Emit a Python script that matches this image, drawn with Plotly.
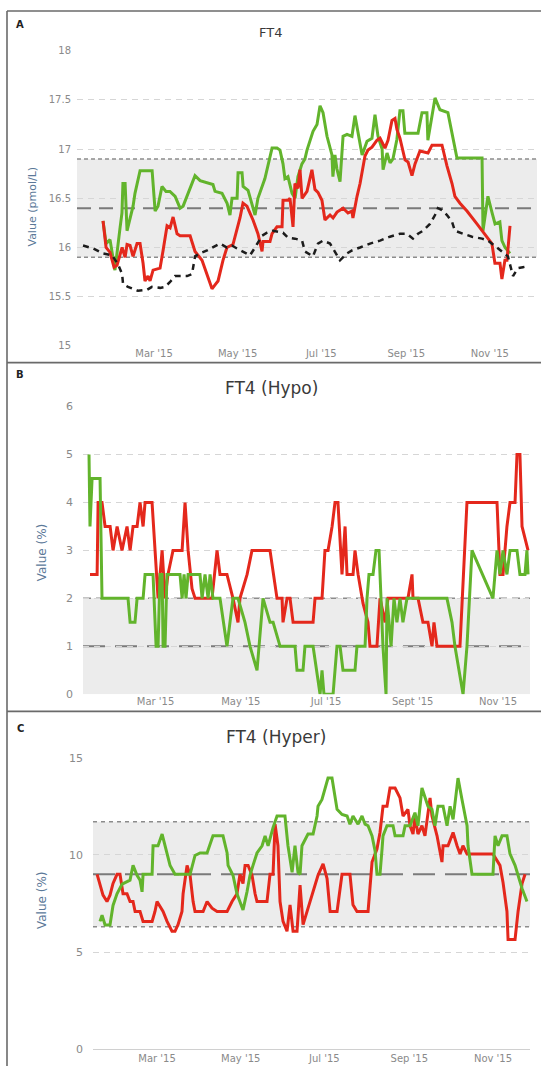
import numpy as np
import pandas as pd
import plotly.graph_objects as go

# ---------------- data (days counted from 2015-01-01) ----------------
BASE = pd.Timestamp("2015-01-01")

TICK_DATES = ["2015-03-01", "2015-05-01", "2015-07-01", "2015-09-01", "2015-11-01"]
TICK_TEXT_A = ["Mar '15", "May '15", "Jul '15", "Sep '15", "Nov '15"]
TICK_TEXT_B = ["Mar '15", "May '15", "Jul '15", "Sept '15", "Nov '15"]
TICK_TEXT_C = ["Mar '15", "May '15", "Jul '15", "Sep '15", "Nov '15"]

A_Y_TICKS = [15, 15.5, 16, 16.5, 17, 17.5, 18]
B_Y_TICKS = [0, 1, 2, 3, 4, 5, 6]
C_Y_TICKS = [0, 5, 10, 15]

# reference band: low, high, middle
A_BAND = [15.9, 16.9, 16.4]
B_BAND = [0, 2, 1]
C_BAND = [6.3, 11.7, 9.0]

# Panel A: FT4 (pmol/L)
a_green_day = [21.8, 24.0, 26.9, 30.5, 34.2, 35.6, 36.3, 37.9, 39.3, 43.7, 45.1, 48.8, 57.6, 59.8, 61.9, 64.8,
               67.7, 70.6, 74.4, 78.0, 80.2, 85.2, 88.9, 92.6, 98.4, 102.0, 103.5, 108.6, 112.3, 114.4, 115.9,
               119.6, 120.3, 123.2, 124.0, 127.6, 132.7, 134.8, 139.9, 145.1, 148.7, 150.9, 153.1, 154.5, 156.7,
               159.7, 161.9, 164.0, 166.9, 169.1, 170.6, 175.0, 177.9, 180.1, 182.3, 185.2, 188.8, 189.5, 191.0,
               192.4, 194.7, 196.9, 199.8, 203.4, 205.6, 207.8, 210.8, 214.4, 218.0, 220.2, 222.4, 225.4, 226.1,
               229.0, 231.2, 233.3, 236.2, 238.4, 240.6, 242.0, 251.6, 254.5, 258.1, 258.8, 261.8, 264.0, 267.6,
               273.4, 280.0, 298.3, 299.0, 302.6, 305.5, 307.8, 311.3, 312.8, 315.1, 318.7]
a_green_val = [16.27, 16.04, 16.08, 15.77, 16.20, 16.35, 16.65, 16.65, 16.17, 16.42, 16.55, 16.78, 16.78, 16.37,
               16.42, 16.62, 16.57, 16.57, 16.52, 16.40, 16.42, 16.60, 16.73, 16.68, 16.66, 16.64, 16.57, 16.55,
               16.45, 16.33, 16.50, 16.50, 16.76, 16.76, 16.62, 16.58, 16.33, 16.50, 16.70, 17.01, 17.01, 16.99,
               16.85, 16.70, 16.72, 16.55, 16.50, 16.72, 16.85, 16.90, 16.99, 17.18, 17.25, 17.44, 17.37, 17.13,
               16.94, 16.72, 16.94, 16.80, 16.67, 17.13, 17.15, 17.13, 17.34, 17.18, 16.94, 17.08, 17.11, 17.35,
               17.13, 17.00, 16.79, 16.96, 16.86, 16.90, 17.10, 17.39, 17.39, 17.16, 17.16, 17.37, 17.37, 17.09,
               17.33, 17.52, 17.40, 17.37, 16.91, 16.91, 16.17, 16.52, 16.36, 16.24, 16.26, 16.07, 16.00, 15.94]

a_red_day = [21.8, 24.0, 26.9, 29.8, 32.0, 35.7, 37.9, 39.3, 41.5, 43.7, 46.6, 48.8, 51.0, 52.4, 54.6, 56.1, 58.3,
             63.4, 65.6, 68.5, 70.7, 72.9, 75.8, 78.0, 85.3, 88.9, 94.0, 98.4, 101.3, 103.5, 105.7, 109.3, 112.2,
             116.6, 119.5, 121.7, 123.9, 126.8, 129.0, 131.2, 134.8, 137.8, 138.5, 143.6, 145.1, 148.7, 152.4,
             153.1, 156.7, 158.2, 160.4, 161.8, 164.0, 165.5, 167.0, 170.6, 174.2, 176.4, 178.6, 181.5, 183.7,
             187.4, 189.6, 192.5, 196.9, 200.5, 203.4, 204.1, 207.1, 209.3, 212.9, 215.1, 218.0, 221.7, 223.9,
             227.5, 229.7, 232.6, 234.8, 236.2, 238.4, 242.1, 244.3, 247.2, 249.4, 253.0, 258.9, 261.8, 269.1,
             272.7, 276.4, 278.5, 282.2, 287.3, 294.6, 299.0, 301.9, 305.5, 307.7, 311.4, 312.8, 315.0, 316.5,
             318.7]
a_red_val = [16.27, 16.00, 15.95, 15.80, 15.82, 16.00, 15.90, 16.03, 16.02, 15.91, 16.04, 16.04, 15.84, 15.66,
             15.71, 15.66, 15.77, 15.79, 15.97, 16.22, 16.20, 16.31, 16.14, 16.12, 16.12, 15.96, 15.87, 15.70,
             15.58, 15.62, 15.66, 15.87, 16.00, 16.03, 16.17, 16.30, 16.45, 16.42, 16.35, 16.28, 16.14, 15.96,
             16.06, 16.06, 16.14, 16.21, 16.21, 16.48, 16.48, 16.50, 16.21, 16.65, 16.60, 16.79, 16.50, 16.57,
             16.79, 16.59, 16.56, 16.48, 16.28, 16.33, 16.30, 16.36, 16.40, 16.35, 16.37, 16.30, 16.52, 16.65,
             16.93, 16.99, 17.02, 17.09, 17.11, 17.01, 17.09, 17.29, 17.31, 17.20, 17.11, 16.89, 16.87, 16.73,
             16.85, 16.98, 16.96, 17.04, 17.04, 16.83, 16.65, 16.52, 16.45, 16.37, 16.24, 16.16, 16.10, 16.04,
             15.84, 15.84, 15.68, 15.87, 15.87, 16.22]

a_black_day = [7.2, 14.5, 21.8, 28.4, 32.7, 35.7, 36.4, 40.0, 43.7, 47.3, 53.9, 57.5, 63.4, 67.0, 70.7, 74.3, 83.1,
               86.7, 88.9, 92.5, 97.7, 102.0, 107.1, 112.2, 115.9, 119.5, 123.9, 129.0, 132.7, 134.8, 137.8, 141.4,
               145.8, 153.1, 156.7, 161.8, 167.0, 169.1, 175.0, 178.6, 182.3, 187.4, 191.0, 194.7, 199.8, 203.4,
               209.3, 216.6, 223.9, 231.1, 238.4, 243.5, 247.9, 251.6, 255.2, 260.3, 264.0, 266.1, 269.1, 272.7,
               276.4, 278.5, 284.4, 291.0, 298.3, 302.6, 309.2, 312.8, 317.2, 320.9, 324.5, 328.1, 331.8]
a_black_val = [16.02, 15.99, 15.94, 15.92, 15.83, 15.73, 15.63, 15.60, 15.58, 15.56, 15.57, 15.60, 15.59, 15.60,
               15.65, 15.71, 15.71, 15.73, 15.91, 15.94, 15.97, 16.00, 16.04, 16.00, 16.02, 15.99, 15.96, 15.92,
               16.00, 16.05, 16.12, 16.15, 16.17, 16.15, 16.10, 16.09, 16.07, 15.96, 15.91, 16.04, 16.07, 16.04,
               15.96, 15.87, 15.94, 15.97, 16.00, 16.04, 16.07, 16.11, 16.14, 16.14, 16.09, 16.14, 16.17, 16.24,
               16.33, 16.40, 16.38, 16.33, 16.26, 16.17, 16.14, 16.11, 16.09, 16.07, 16.00, 15.96, 15.91, 15.71,
               15.79, 15.80, 15.81]

# Panel B: FT4 (Hypo) %
b_green_day = [11.4, 12.1, 13.6, 19.3, 20.7, 39.3, 40.8, 44.3, 45.8, 50.1, 51.5, 57.2, 59.4, 60.8, 62.2, 63.7,
               64.4, 65.8, 67.2, 76.5, 78.0, 79.4, 80.8, 82.3, 90.8, 92.3, 94.4, 96.6, 98.0, 100.1, 105.1, 110.1,
               114.4, 118.0, 123.0, 126.6, 131.6, 135.9, 140.9, 143.1, 148.1, 158.8, 160.2, 164.5, 165.9, 171.7,
               176.7, 178.1, 179.5, 186.0, 188.8, 191.0, 193.1, 201.7, 203.1, 208.9, 210.3, 211.7, 214.6, 216.7,
               218.9, 221.7, 223.9, 224.6, 227.5, 229.6, 231.7, 233.9, 236.0, 238.9, 267.5, 271.1, 273.2, 279.0,
               281.8, 285.4, 300.4, 303.3, 305.4, 307.6, 310.4, 312.6, 317.6, 319.7, 323.3, 324.7, 325.5]
b_green_val = [5, 3.5, 4.5, 4.5, 2, 2, 1.5, 1.5, 2, 2, 2.5, 2.5, 1, 1, 2.5, 2.5, 1, 1, 2.5, 2.5, 2, 2.5, 2, 2.5,
               2.5, 2, 2.5, 2, 2.5, 2, 2, 1, 2, 2, 1.5, 1, 0.5, 2, 1.5, 1.5, 1, 1, 0.5, 0.5, 1, 1, 0, 0.5, 0, 0,
               1, 1, 0.5, 0.5, 1, 1, 2, 2.5, 2.5, 3, 3, 1, 0, 2, 1, 2, 1.5, 2, 1.5, 2, 2, 1.5, 1, 0, 1, 3, 2, 3,
               2.5, 3, 2.5, 3, 3, 2.5, 2.5, 3, 2.5]

b_red_day = [12.1, 17.2, 17.9, 20.7, 22.9, 26.5, 28.6, 31.5, 35.0, 38.6, 40.8, 42.9, 45.8, 47.9, 50.1, 51.5, 56.5,
             58.6, 60.8, 63.7, 65.8, 67.9, 71.5, 78.0, 80.1, 82.3, 85.1, 87.3, 99.4, 103.0, 105.1, 110.1, 114.4,
             118.0, 119.4, 124.5, 128.0, 140.9, 145.9, 149.5, 150.2, 153.1, 155.2, 157.4, 171.7, 173.1, 178.1,
             180.2, 182.4, 185.3, 187.4, 189.5, 192.4, 194.6, 196.0, 200.3, 201.7, 203.9, 207.4, 211.0, 212.4,
             217.4, 219.6, 223.2, 225.3, 239.6, 242.5, 243.2, 246.8, 250.3, 253.9, 256.8, 258.2, 260.4, 276.8,
             281.8, 303.3, 305.4, 307.6, 310.4, 312.6, 316.2, 317.6, 319.7, 321.2, 325.5]
b_red_val = [2.5, 2.5, 4, 4, 3.5, 3.5, 3, 3.5, 3, 3.5, 3, 3.5, 3.5, 4, 3.5, 4, 4, 3, 2, 3, 2, 2.5, 3, 3, 4, 3, 2.2,
             2, 2, 3, 2.5, 2.5, 2, 1.5, 2, 2.5, 3, 3, 2, 2, 1.5, 2, 2, 1.5, 1.5, 2, 2, 3, 3, 3.5, 4, 4, 2.5, 3.5,
             2.5, 2.5, 3, 2.5, 1.9, 1.5, 1, 1, 2, 1.5, 2, 2, 2.5, 2, 2, 1.5, 1.5, 1, 1.5, 1, 1, 4, 4, 2.5, 2.5,
             3.5, 4, 4, 5, 5, 3.5, 3]

# Panel C: FT4 (Hyper) %
c_green_day = [17.4, 18.9, 21.1, 24.7, 26.9, 29.8, 33.5, 39.3, 41.5, 44.4, 46.6, 48.1, 48.8, 55.4, 56.1, 59.7,
               62.7, 64.8, 68.5, 72.1, 83.1, 86.7, 90.4, 95.5, 99.8, 107.1, 110.1, 110.8, 114.4, 117.3, 119.5,
               121.7, 124.6, 126.8, 129.0, 131.9, 135.6, 137.8, 140.0, 143.6, 146.5, 152.3, 154.5, 157.5, 159.6,
               161.8, 163.3, 164.7, 169.1, 172.8, 175.7, 176.4, 179.3, 181.5, 183.7, 186.6, 188.8, 190.3, 193.9,
               197.6, 199.7, 201.9, 205.6, 208.5, 210.7, 212.9, 215.8, 218.0, 219.4, 221.6, 223.1, 223.8, 226.7,
               231.1, 232.6, 238.4, 239.9, 243.5, 247.1, 249.3, 252.2, 254.4, 256.6, 259.5, 261.7, 263.9, 267.6,
               270.5, 272.7, 274.9, 278.5, 281.4, 283.6, 285.1, 285.8, 288.7, 304.0, 305.5, 307.7, 310.6, 314.2,
               316.4, 320.1, 322.3, 325.2, 328.8]
c_green_val = [6.58, 6.9, 6.4, 6.4, 7.4, 8.0, 8.5, 8.7, 9.46, 8.95, 8.7, 8.1, 9.0, 9.0, 10.47, 10.47, 11.07,
               10.47, 9.46, 9.0, 9.0, 9.97, 10.1, 10.1, 10.98, 10.98, 10.1, 9.46, 8.95, 8.0, 7.6, 7.17, 8.1, 8.95,
               9.46, 10.1, 10.47, 10.98, 10.47, 11.4, 12.0, 12.0, 10.47, 9.1, 10.47, 9.1, 9.0, 10.47, 11.07,
               11.07, 12.0, 12.5, 12.85, 13.44, 13.95, 13.95, 12.85, 12.34, 12.08, 12.0, 11.58, 12.0, 11.58,
               12.0, 11.58, 11.5, 10.98, 10.22, 9.0, 9.0, 10.3, 10.98, 11.5, 11.5, 10.98, 10.98, 11.5, 11.5,
               12.17, 11.5, 13.44, 12.93, 12.5, 12.34, 11.5, 12.5, 12.5, 11.5, 12.5, 11.83, 13.95, 12.85, 12.0,
               11.5, 10.47, 9.0, 9.0, 10.98, 10.47, 10.98, 10.98, 10.05, 9.46, 8.95, 8.27, 7.6]

c_red_day = [15.3, 19.6, 22.5, 24.7, 26.9, 29.8, 32.0, 34.2, 37.1, 39.3, 41.5, 43.0, 46.6, 48.8, 55.4, 57.5, 59.0,
             63.4, 66.3, 69.9, 72.1, 74.3, 77.2, 78.0, 80.9, 83.1, 85.3, 86.7, 92.6, 95.5, 99.1, 102.8, 110.1,
             113.7, 117.3, 119.5, 121.7, 123.2, 125.4, 128.3, 130.5, 131.9, 139.2, 141.4, 143.6, 145.1, 147.2,
             148.7, 150.9, 153.8, 156.0, 158.2, 161.1, 163.3, 165.5, 168.4, 170.6, 176.4, 180.1, 183.0, 185.2,
             190.3, 193.9, 199.7, 201.9, 204.8, 212.9, 215.8, 219.4, 221.6, 223.8, 226.7, 228.9, 232.6, 236.2,
             237.7, 238.4, 242.0, 243.5, 245.7, 247.1, 249.3, 252.2, 254.4, 258.1, 259.5, 263.2, 266.8, 267.6,
             271.2, 274.9, 277.8, 280.0, 282.1, 285.1, 304.0, 309.1, 311.3, 314.2, 315.0, 320.1, 322.3, 325.2,
             327.4]
c_red_val = [9.0, 7.93, 7.6, 7.93, 8.53, 9.0, 9.0, 8.0, 8.0, 7.6, 7.6, 7.09, 7.09, 6.58, 6.58, 7.09, 7.6, 7.09,
             6.58, 6.07, 6.07, 6.41, 7.09, 8.0, 9.46, 8.95, 7.6, 7.09, 7.09, 7.6, 7.26, 7.09, 7.09, 7.6, 8.0, 9.0,
             8.53, 9.46, 9.46, 8.95, 8.0, 7.6, 7.6, 9.0, 9.0, 11.58, 10.47, 7.6, 6.58, 6.07, 7.43, 6.07, 6.07,
             8.44, 6.41, 7.09, 7.6, 8.95, 9.54, 8.78, 7.09, 7.09, 9.0, 9.0, 7.43, 7.09, 7.09, 9.63, 10.3, 11.15,
             12.5, 12.5, 13.44, 13.44, 12.93, 12.34, 12.0, 12.34, 11.5, 11.07, 12.0, 11.07, 11.5, 10.98, 12.93,
             12.0, 10.98, 9.63, 10.47, 10.47, 11.15, 10.47, 10.05, 10.47, 10.05, 10.05, 9.46, 8.6, 7.09, 5.65,
             5.65, 7.09, 8.53, 9.0]

# ---------------- styling / layout ----------------
W, H = 541, 1073
RED = "#e4281c"
GREEN = "#62b42c"
GRID = "#d6d6d6"
TICKC = "#8a8a8a"
FONT = "DejaVu Sans"


def to_dates(days):
    return BASE + pd.to_timedelta(np.asarray(days, dtype=float), unit="D")


def day_str(d):
    return (BASE + pd.Timedelta(days=d)).strftime("%Y-%m-%d %H:%M:%S")


def xdom(a, b):
    return [a / W, b / W]


def ydom(top, bottom):
    return [1 - bottom / H, 1 - top / H]


panels = [
    dict(x="x", y="y", xd=(77, 537), yd=(45.2, 344.1), yr=(15, 18), xr=(2.8, 338.4),
         yt=A_Y_TICKS, xt=TICK_TEXT_A, band=A_BAND, standoff=5, tfs=10,
         mid_dash="14px,8px", edge_dash="4px,3px"),
    dict(x="x2", y="y2", xd=(83, 530), yd=(405.5, 696.7), yr=(0, 6), xr=(7.1, 326.9),
         yt=B_Y_TICKS, xt=TICK_TEXT_B, band=B_BAND, standoff=9, tfs=11,
         mid_dash="22px,10px", edge_dash="8px,5px"),
    dict(x="x3", y="y3", xd=(93, 530), yd=(760.9, 1056.1), yr=(0, 15), xr=(12.3, 331.0),
         yt=C_Y_TICKS, xt=TICK_TEXT_C, band=C_BAND, standoff=9, tfs=11,
         mid_dash="22px,10px", edge_dash="4px,4px"),
]

fig = go.Figure()


def add_line(days, vals, color, p, width=3, dash=None):
    assert len(days) == len(vals)
    fig.add_trace(go.Scatter(
        x=to_dates(days), y=vals, mode="lines", xaxis=p["x"], yaxis=p["y"],
        line=dict(color=color, width=width, dash=dash), showlegend=False, hoverinfo="skip"))


pA, pB, pC = panels
add_line(a_green_day, a_green_val, GREEN, pA)
add_line(a_red_day, a_red_val, RED, pA)
add_line(a_black_day, a_black_val, "#1c1c1c", pA, width=2.5, dash="6px,5px")
add_line(b_red_day, b_red_val, RED, pB)
add_line(b_green_day, b_green_val, GREEN, pB)
add_line(c_red_day, c_red_val, RED, pC)
add_line(c_green_day, c_green_val, GREEN, pC)

layout = dict(width=W, height=H, margin=dict(l=0, r=0, t=0, b=0),
              paper_bgcolor="white", plot_bgcolor="white",
              font=dict(family=FONT), showlegend=False)
shapes = []
for i, p in enumerate(panels):
    sfx = "" if i == 0 else str(i + 1)
    layout["xaxis" + sfx] = dict(
        domain=xdom(*p["xd"]), anchor=p["y"], type="date",
        range=[day_str(p["xr"][0]), day_str(p["xr"][1])],
        tickvals=TICK_DATES, ticktext=p["xt"], tickfont=dict(size=10, color=TICKC, family=FONT),
        showgrid=False, zeroline=False, showline=(i == 2), linecolor="#d0d0d0", ticks="")
    layout["yaxis" + sfx] = dict(
        domain=ydom(*p["yd"]), anchor=p["x"], range=list(p["yr"]),
        tickvals=p["yt"], ticktext=[f"{v:g}" for v in p["yt"]],
        tickfont=dict(size=p["tfs"], color=TICKC, family=FONT),
        showgrid=True, gridcolor=GRID, griddash="6px,5px", gridwidth=1,
        zeroline=False, showline=False, ticks="", ticklabelstandoff=p["standoff"])
    lo, hi, mid = p["band"]
    xr = p["x"] + " domain"
    shapes.append(dict(type="rect", xref=xr, yref=p["y"], x0=0, x1=1, y0=lo, y1=hi,
                       fillcolor="#ececec", line=dict(width=0), layer="below"))
    for v in (lo, hi):
        if v != p["yr"][0]:
            shapes.append(dict(type="line", xref=xr, yref=p["y"], x0=0, x1=1, y0=v, y1=v,
                               line=dict(color="#8c8c8c", width=1.5, dash=p["edge_dash"]), layer="below"))
    shapes.append(dict(type="line", xref=xr, yref=p["y"], x0=0, x1=1, y0=mid, y1=mid,
                       line=dict(color="#7a7a7a", width=2, dash=p["mid_dash"]), layer="below"))


def pline(x0, y0, x1, y1, w=1.6, c="#6a6a6a"):
    return dict(type="line", xref="paper", yref="paper", x0=x0 / W, x1=x1 / W,
                y0=1 - y0 / H, y1=1 - y1 / H, line=dict(color=c, width=w))


shapes += [pline(7, 5, 7, H), pline(7, 5, W, 5), pline(7, 361, W, 361), pline(7, 714, W, 714)]
layout["shapes"] = shapes


def ann(text, x, y, size, color, bold=False, angle=0):
    return dict(text=f"<b>{text}</b>" if bold else text, x=x / W, y=1 - y / H, xref="paper", yref="paper",
                showarrow=False, xanchor="center", yanchor="middle", textangle=angle,
                font=dict(size=size, color=color, family=FONT))


layout["annotations"] = [
    ann("FT4", 270, 27, 13, "#3a3a3a"),
    ann("FT4 (Hypo)", 271, 387, 17, "#3a3a3a"),
    ann("FT4 (Hyper)", 276, 740, 17, "#3a3a3a"),
    ann("A", 20, 19, 10, "#222", bold=True),
    ann("B", 20, 373, 10, "#222", bold=True),
    ann("C", 20, 731, 10, "#222", bold=True),
    ann("Value (pmol/L)", 33, 203, 11, "#5b7898", angle=-90),
    ann("Value (%)", 42, 553, 12, "#5b7898", angle=-90),
    ann("Value (%)", 42, 905, 12, "#5b7898", angle=-90),
]

fig.update_layout(**layout)
# remove the browser's default 8px page margin so the figure sits at the window origin
fig.write_html("out.html", config={"displayModeBar": False},
               post_script="document.body.style.margin='0px';")
